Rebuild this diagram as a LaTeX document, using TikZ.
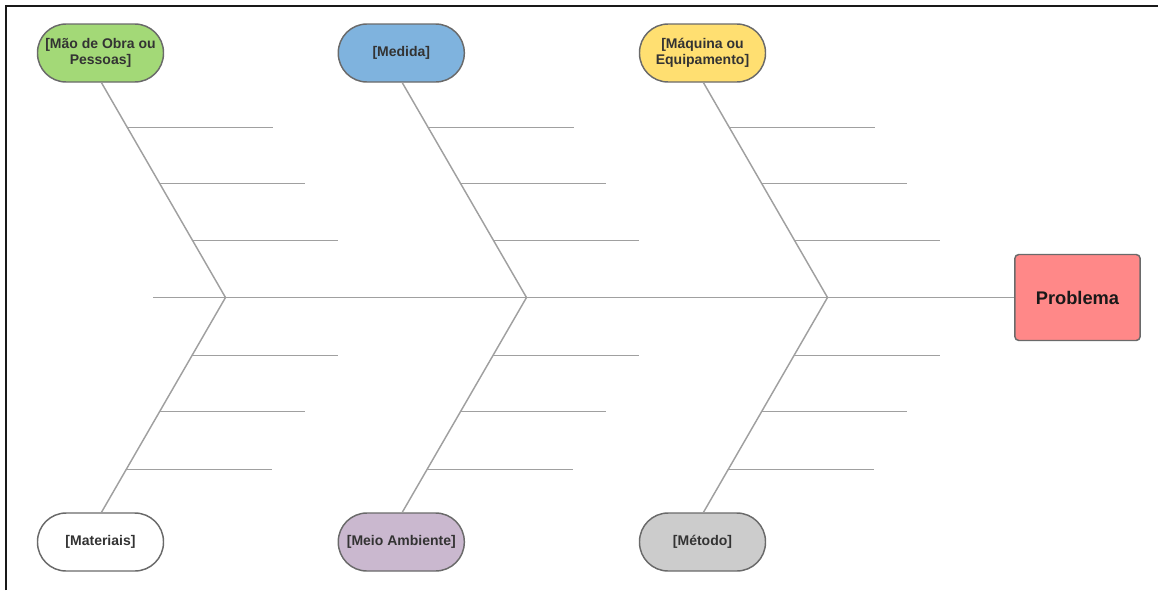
\documentclass[tikz,border=0pt]{standalone}
\usepackage{fontspec}
\setmainfont{Liberation Sans}
\usetikzlibrary{calc}
\definecolor{bonegray}{HTML}{A0A0A0}
\definecolor{capborder}{HTML}{6A6A6A}
\definecolor{labeltext}{HTML}{333333}
\definecolor{cgreen}{HTML}{A3D977}
\definecolor{cblue}{HTML}{7FB3DE}
\definecolor{cyellow}{HTML}{FFDF71}
\definecolor{cpurple}{HTML}{CAB8CF}
\definecolor{cgray}{HTML}{CCCCCC}
\definecolor{cred}{HTML}{FF8888}
\begin{document}
\begin{tikzpicture}[x=0.75pt,y=-0.75pt,
  capsule/.style={draw=capborder, line width=1.1pt, rectangle, rounded corners=21.5pt,
    minimum width=94.5pt, minimum height=43.5pt, inner sep=0pt, align=center,
    font=\fontsize{10.5}{12}\selectfont\bfseries, text=labeltext},
  probbox/.style={draw=capborder, line width=1.1pt, rectangle, rounded corners=3pt,
    minimum width=94pt, minimum height=64.5pt, inner sep=0pt,
    font=\fontsize{13.7}{16}\selectfont\bfseries, text=black!90},
  bone/.style={draw=bonegray, line width=1.1pt},
  frameline/.style={draw=black!90, line width=1.5pt}
]
\useasboundingbox (0,0) rectangle (1158,590);
\draw[frameline] (6,590) -- (6,6) -- (1158,6);

% nodes
\node[capsule, fill=cgreen]  (mao)   at (100.5,53)  {[Mão de Obra ou\\Pessoas]};
\node[capsule, fill=cblue]   (med)   at (401.3,53)  {[Medida]};
\node[capsule, fill=cyellow] (maq)   at (702.5,53)  {[Máquina ou\\Equipamento]};
\node[capsule, fill=white]   (mat)   at (100.5,542) {[Materiais]};
\node[capsule, fill=cpurple] (meio)  at (401.3,542) {[Meio Ambiente]};
\node[capsule, fill=cgray]   (metod) at (702.5,542) {[Método]};
\node[probbox, fill=cred]    (prob)  at (1077.5,297.5) {Problema};

\coordinate (tail) at (153,297.5);
\coordinate (j1) at (225.5,297.5);
\coordinate (j2) at (526.5,297.5);
\coordinate (j3) at (827.5,297.5);

% spine
\draw[bone] (tail) -- (prob.west);

% bones
\foreach \top/\j/\bot in {mao/j1/mat, med/j2/meio, maq/j3/metod}{
  \draw[bone] ([xshift=0.75pt]\top.south) -- (\j) -- ([xshift=0.75pt]\bot.north);
  \foreach \f in {0.209,0.470,0.735}{
    \draw[bone] ($([xshift=0.75pt]\top.south)!\f!(\j)$) -- ++(145.5,0);
  }
  \foreach \f in {0.269,0.532,0.801}{
    \draw[bone] ($(\j)!\f!([xshift=0.75pt]\bot.north)$) -- ++(145.5,0);
  }
}
\end{tikzpicture}
\end{document}
